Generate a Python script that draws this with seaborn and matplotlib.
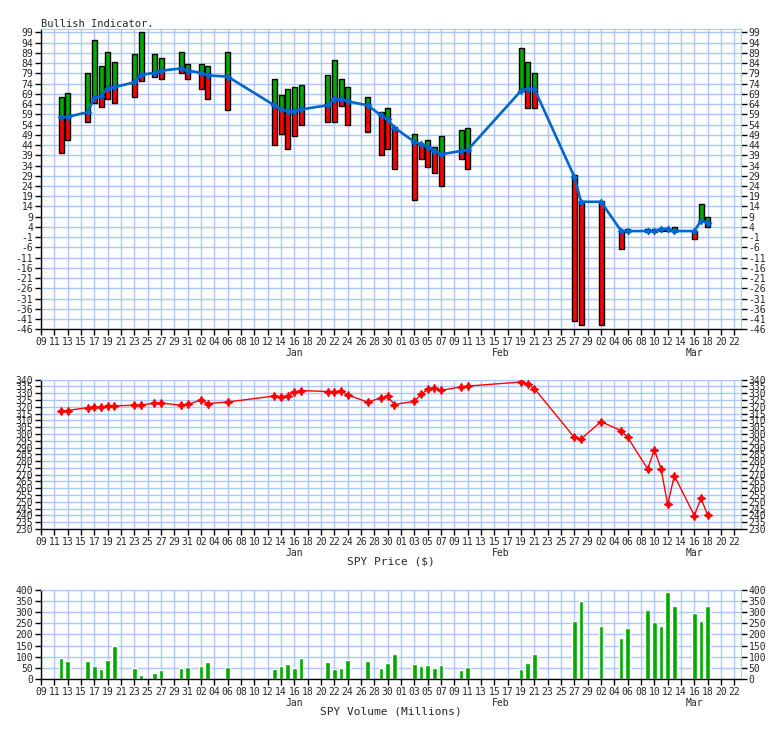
import pandas as pd
import numpy as np
import matplotlib
matplotlib.use("Agg")
import matplotlib.pyplot as plt
import matplotlib.dates as mdates
import matplotlib.transforms as mtrans
import seaborn as sns

# trading days with a reading
dates = ["2019-12-12", "2019-12-13", "2019-12-16", "2019-12-17", "2019-12-18", "2019-12-19",
         "2019-12-20", "2019-12-23", "2019-12-24", "2019-12-26", "2019-12-27", "2019-12-30",
         "2019-12-31", "2020-01-02", "2020-01-03", "2020-01-06", "2020-01-13", "2020-01-14",
         "2020-01-15", "2020-01-16", "2020-01-17", "2020-01-21", "2020-01-22", "2020-01-23",
         "2020-01-24", "2020-01-27", "2020-01-29", "2020-01-30", "2020-01-31", "2020-02-03",
         "2020-02-04", "2020-02-05", "2020-02-06", "2020-02-07", "2020-02-10", "2020-02-11",
         "2020-02-19", "2020-02-20", "2020-02-21", "2020-02-27", "2020-02-28", "2020-03-02",
         "2020-03-05", "2020-03-06", "2020-03-09", "2020-03-10", "2020-03-11", "2020-03-12",
         "2020-03-13", "2020-03-16", "2020-03-17", "2020-03-18"]

bull_high = [67.3, 69.2, 79.0, 95.2, 82.6, 89.2, 84.4, 88.3, 99.0, 88.3, 86.3, 89.2,
             83.4, 83.4, 82.4, 89.2, 76.1, 68.3, 71.2, 72.2, 73.1, 78.0, 85.3, 76.1,
             72.2, 67.3, 60.0, 61.9, 53.0, 49.2, 44.5, 46.3, 42.9, 48.2, 51.2, 52.1,
             91.2, 84.4, 79.0, 29.4, 16.8, 16.8, 2.2, 2.9, 2.9, 2.9, 3.6, 3.6,
             3.8, 2.0, 15.1, 9.0]
bull_avg = [57.5, 57.8, 60.0, 67.1, 67.9, 71.7, 72.3, 74.6, 78.2, 79.3, 80.3, 81.4,
            80.3, 79.3, 78.0, 77.4, 63.4, 61.4, 60.4, 60.4, 61.4, 63.4, 66.3, 66.3,
            65.3, 63.4, 58.5, 56.5, 52.5, 45.6, 44.5, 43.2, 41.2, 39.5, 41.1, 41.6,
            70.5, 71.5, 71.5, 28.5, 16.3, 16.3, 2.2, 2.0, 2.0, 2.0, 3.0, 3.0,
            2.0, 2.0, 7.1, 6.1]
bull_low = [39.9, 46.3, 55.1, 64.3, 62.7, 66.3, 64.3, 67.3, 75.2, 77.0, 76.1, 79.0,
            76.1, 71.2, 66.3, 61.1, 43.9, 49.2, 41.9, 48.2, 54.0, 55.1, 55.1, 62.9,
            54.0, 50.2, 39.0, 41.9, 32.1, 17.2, 37.0, 33.1, 30.2, 23.8, 37.0, 32.1,
            70.5, 61.9, 61.9, -41.9, -43.9, -43.9, -6.9, 1.4, 1.4, 1.4, 2.0, 2.0,
            1.7, -2.0, 7.1, 3.8]

spy_price = [317.1, 317.3, 319.5, 319.6, 319.6, 320.9, 320.7, 321.2, 321.2, 322.9, 322.9, 321.1,
             321.9, 324.9, 322.4, 323.6, 328.0, 327.5, 328.2, 330.9, 332.0, 331.3, 331.3, 331.7,
             328.8, 323.5, 326.6, 327.7, 321.7, 324.1, 329.1, 332.9, 334.0, 332.2, 334.7, 335.3,
             338.3, 337.0, 333.5, 297.5, 296.3, 309.1, 302.5, 297.5, 274.2, 288.4, 274.4, 248.1,
             269.3, 239.9, 252.8, 240.0]

spy_volume = [95, 81, 81, 60, 45, 85, 148, 49, 19, 28, 40, 49,
              54, 60, 76, 54, 45, 60, 67, 49, 94, 76, 45, 49,
              85, 81, 49, 72, 112, 67, 60, 63, 49, 63, 40, 54,
              45, 72, 112, 260, 349, 237, 185, 228, 309, 255, 237, 390,
              327, 296, 260, 327]

month_names = ["Jan", "Feb", "Mar"]
month_mid = ["2020-01-16", "2020-02-16", "2020-03-16"]

sns.set_style("white")
plt.rcParams["font.family"] = ["DejaVu Sans Mono"]

df = pd.DataFrame({"date": pd.to_datetime(dates), "high": bull_high, "avg": bull_avg,
                   "low": bull_low, "price": spy_price, "volume": spy_volume})
df["x"] = mdates.date2num(df["date"])

grid_col = "#aac8ff"
green = "#00aa00"
red = "#ff0000"
blue = "#0066cc"

tick_dates = pd.date_range("2019-12-09", "2020-03-22", freq="2D")
tick_x = mdates.date2num(tick_dates)
tick_lbl = [d.strftime("%d") for d in tick_dates]
x0 = mdates.date2num(pd.Timestamp("2019-12-09"))
x1 = mdates.date2num(pd.Timestamp("2020-03-23"))

fig = plt.figure(figsize=(7.84, 7.29), dpi=100)
W, H = 784, 729

def make_ax(top, bottom):
    return fig.add_axes([41 / W, 1 - bottom / H, 700 / W, (bottom - top) / H])

ax1 = make_ax(29.3, 329.4)
ax2 = make_ax(379.7, 529.0)
ax3 = make_ax(589.7, 679.0)

def style(ax, yticks, xlabel=None):
    ax.set_xlim(x0, x1)
    ax.set_xticks(tick_x)
    ax.set_xticklabels(tick_lbl)
    ax.set_yticks(yticks)
    ax.set_yticklabels([str(v) for v in yticks])
    ax.grid(True, color=grid_col, lw=1, zorder=0)
    ax.set_axisbelow(True)
    for s in ["top", "right"]:
        ax.spines[s].set_color(grid_col)
    for s in ["left", "bottom"]:
        ax.spines[s].set_color("black")
        ax.spines[s].set_linewidth(1)
    ax.tick_params(axis="both", direction="out", length=4, width=1, color="black",
                   labelsize=7, pad=1.5, left=True, bottom=True, right=True,
                   labelright=True)
    ax.set_xlabel("")
    ax.set_ylabel("")
    trans = mtrans.blended_transform_factory(ax.transData, ax.transAxes)
    off = mtrans.ScaledTranslation(0, -23.5 / 100, fig.dpi_scale_trans)
    for m, d in zip(month_names, month_mid):
        ax.text(mdates.date2num(pd.Timestamp(d)), 0, m, transform=trans + off,
                ha="center", va="center", fontsize=7)
    if xlabel:
        off2 = mtrans.ScaledTranslation(0, -32 / 100, fig.dpi_scale_trans)
        ax.text(0.5, 0, xlabel, transform=ax.transAxes + off2, ha="center",
                va="center", fontsize=8)

# bullish indicator: bar from low to high, green above the average, red below
bw = 0.75
for _, r in df.iterrows():
    g_bot = max(r["low"], r["avg"])
    if r["high"] > g_bot:
        ax1.bar(r["x"], r["high"] - g_bot, bottom=g_bot, width=bw, color=green,
                edgecolor="black", lw=1, zorder=2)
    r_top = min(r["high"], r["avg"])
    if r_top > r["low"]:
        ax1.bar(r["x"], r_top - r["low"], bottom=r["low"], width=bw, color=red,
                edgecolor="black", lw=1, zorder=2)
sns.lineplot(data=df, x="x", y="avg", ax=ax1, color=blue, lw=1.9, marker=(4, 1, 0),
             markersize=5, markeredgecolor=blue, zorder=3)
ax1.set_ylim(-46, 100.5)
style(ax1, list(range(-46, 100, 5)))
fig.text(41 / W, 1 - 24 / H, "Bullish Indicator.", ha="left", va="center", fontsize=7.5)

# SPY price
sns.lineplot(data=df, x="x", y="price", ax=ax2, color=red, lw=1, marker=(4, 1, 0),
             markersize=6, markeredgecolor=red, zorder=3)
ax2.set_ylim(230, 340)
style(ax2, list(range(230, 341, 5)), "SPY Price ($)")

# SPY volume
ax3.bar(df["x"], df["volume"], width=0.7, color=green, zorder=2)
ax3.set_ylim(0, 400)
style(ax3, list(range(0, 401, 50)), "SPY Volume (Millions)")

fig.savefig("out.png", dpi=100)
